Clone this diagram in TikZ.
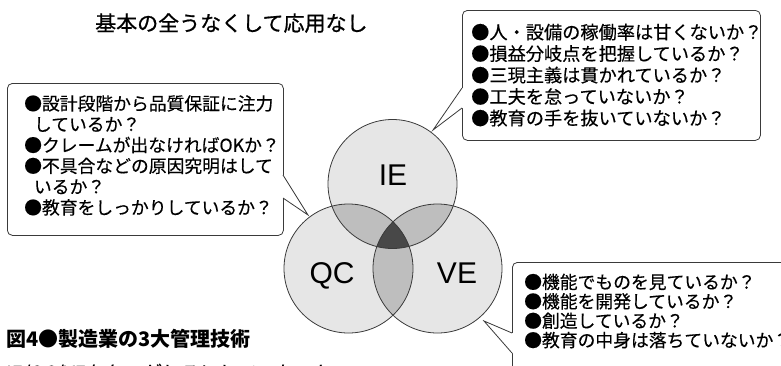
\documentclass[tikz,border=0pt]{standalone}
\usepackage{fontspec}
\setmainfont{Noto Sans CJK JP}[FakeBold=0.35]
\newfontfamily\capfont{Noto Sans CJK JP}
\newfontfamily\titlefont{Noto Sans CJK JP}[FakeBold=0.8]
\newfontfamily\latinsans{Liberation Sans}
\definecolor{gA}{HTML}{E6E6E6}
\definecolor{gB}{HTML}{BEBEBE}
\definecolor{gC}{HTML}{484848}
\definecolor{ln}{HTML}{3A3A3A}
\begin{document}
\begin{tikzpicture}[x=1pt,y=-1pt,
  line/.style={draw=ln, line width=0.8pt},
  callout/.style={line, fill=white, rounded corners=5pt, anchor=north west, inner sep=0pt},
  boxtext/.style={anchor=north west, inner sep=0pt, align=left},
  venn/.style={font=\latinsans\fontsize{30}{30}\selectfont, anchor=base, inner sep=0pt},
  plain/.style={anchor=base west, inner sep=0pt}]
\useasboundingbox (0,0) rectangle (781,365);
\def\vr{64.5}
\coordinate (cIE) at (392.5,184);
\coordinate (cQC) at (348.5,268.5);
\coordinate (cVE) at (437.5,268.5);
% circles
\fill[gA] (cIE) circle (\vr);
\fill[gA] (cQC) circle (\vr);
\fill[gA] (cVE) circle (\vr);
\begin{scope}
  \clip (cIE) circle (\vr);
  \fill[gB] (cQC) circle (\vr);
  \fill[gB] (cVE) circle (\vr);
\end{scope}
\begin{scope}
  \clip (cQC) circle (\vr);
  \fill[gB] (cVE) circle (\vr);
\end{scope}
\begin{scope}
  \clip (cIE) circle (\vr);
  \clip (cQC) circle (\vr);
  \fill[gC] (cVE) circle (\vr);
\end{scope}
\draw[line] (cIE) circle (\vr);
\draw[line] (cQC) circle (\vr);
\draw[line] (cVE) circle (\vr);
\node[venn] (lIE) at (393,185.8) {IE};
\node[venn] (lQC) at (332,283.8) {QC};
\node[venn] (lVE) at (457,283.8) {VE};
% title
\node[plain, font=\titlefont\fontsize{21}{21}\selectfont] (title) at (95,31) {基本の全うなくして応用なし};
% IE callout
\node[callout, minimum width=298pt, minimum height=130pt] (bIE) at (462,10) {};
\coordinate (pIEa) at (462,88);
\coordinate (pIEb) at (462,108);
\coordinate (tIE) at (433,130);
\fill[white] ([xshift=1pt]pIEa) -- ([xshift=-1pt]pIEa) -- (tIE) -- ([xshift=-1pt]pIEb) -- ([xshift=1pt]pIEb) -- cycle;
\draw[line] (pIEa) -- (tIE) -- (pIEb);
\node[boxtext, font=\fontsize{18.2}{21.5}\selectfont] (xIE) at (471,21.8)
  {\rule{0pt}{17pt}●人・設備の稼働率は甘くないか？\\
   ●損益分岐点を把握しているか？\\
   ●三現主義は貫かれているか？\\
   ●工夫を怠っていないか？\\
   ●教育の手を抜いていないか？};
% QC callout
\node[callout, minimum width=276pt, minimum height=152pt] (bQC) at (7,83) {};
\coordinate (pQCa) at (283,175);
\coordinate (pQCb) at (283,198);
\coordinate (tQC) at (308,215);
\fill[white] ([xshift=-1pt]pQCa) -- ([xshift=1pt]pQCa) -- (tQC) -- ([xshift=1pt]pQCb) -- ([xshift=-1pt]pQCb) -- cycle;
\draw[line] (pQCa) -- (tQC) -- (pQCb);
\node[boxtext, font=\fontsize{17.8}{20.8}\selectfont] (xQC) at (24,93)
  {\rule{0pt}{17pt}●設計段階から品質保証に注力\\
   \hspace*{0.55em}しているか？\\
   ●クレームが出なければOKか？\\
   ●不具合などの原因究明はして\\
   \hspace*{0.55em}いるか？\\
   ●教育をしっかりしているか？};
% VE callout
\node[callout, minimum width=300pt, minimum height=130pt] (bVE) at (512,262) {};
\coordinate (pVEa) at (512,333);
\coordinate (pVEb) at (512,353);
\coordinate (tVE) at (484,321);
\fill[white] ([xshift=1pt]pVEa) -- ([xshift=-1pt]pVEa) -- (tVE) -- ([xshift=-1pt]pVEb) -- ([xshift=1pt]pVEb) -- cycle;
\draw[line] (pVEa) -- (tVE) -- (pVEb);
\node[boxtext, font=\fontsize{17.8}{19.4}\selectfont] (xVE) at (524,271.5)
  {\rule{0pt}{17pt}●機能でものを見ているか？\\
   ●機能を開発しているか？\\
   ●創造しているか？\\
   ●教育の中身は落ちていないか？};
% caption
\node[plain, font=\capfont\bfseries\fontsize{20}{20}\selectfont] (cap1) at (6,346.5) {図4●製造業の3大管理技術};
\node[plain, font=\fontsize{19}{19}\selectfont] (cap2) at (6,379.8) {IE/QC/VEをないがしろにしていないか};
\end{tikzpicture}
\end{document}
